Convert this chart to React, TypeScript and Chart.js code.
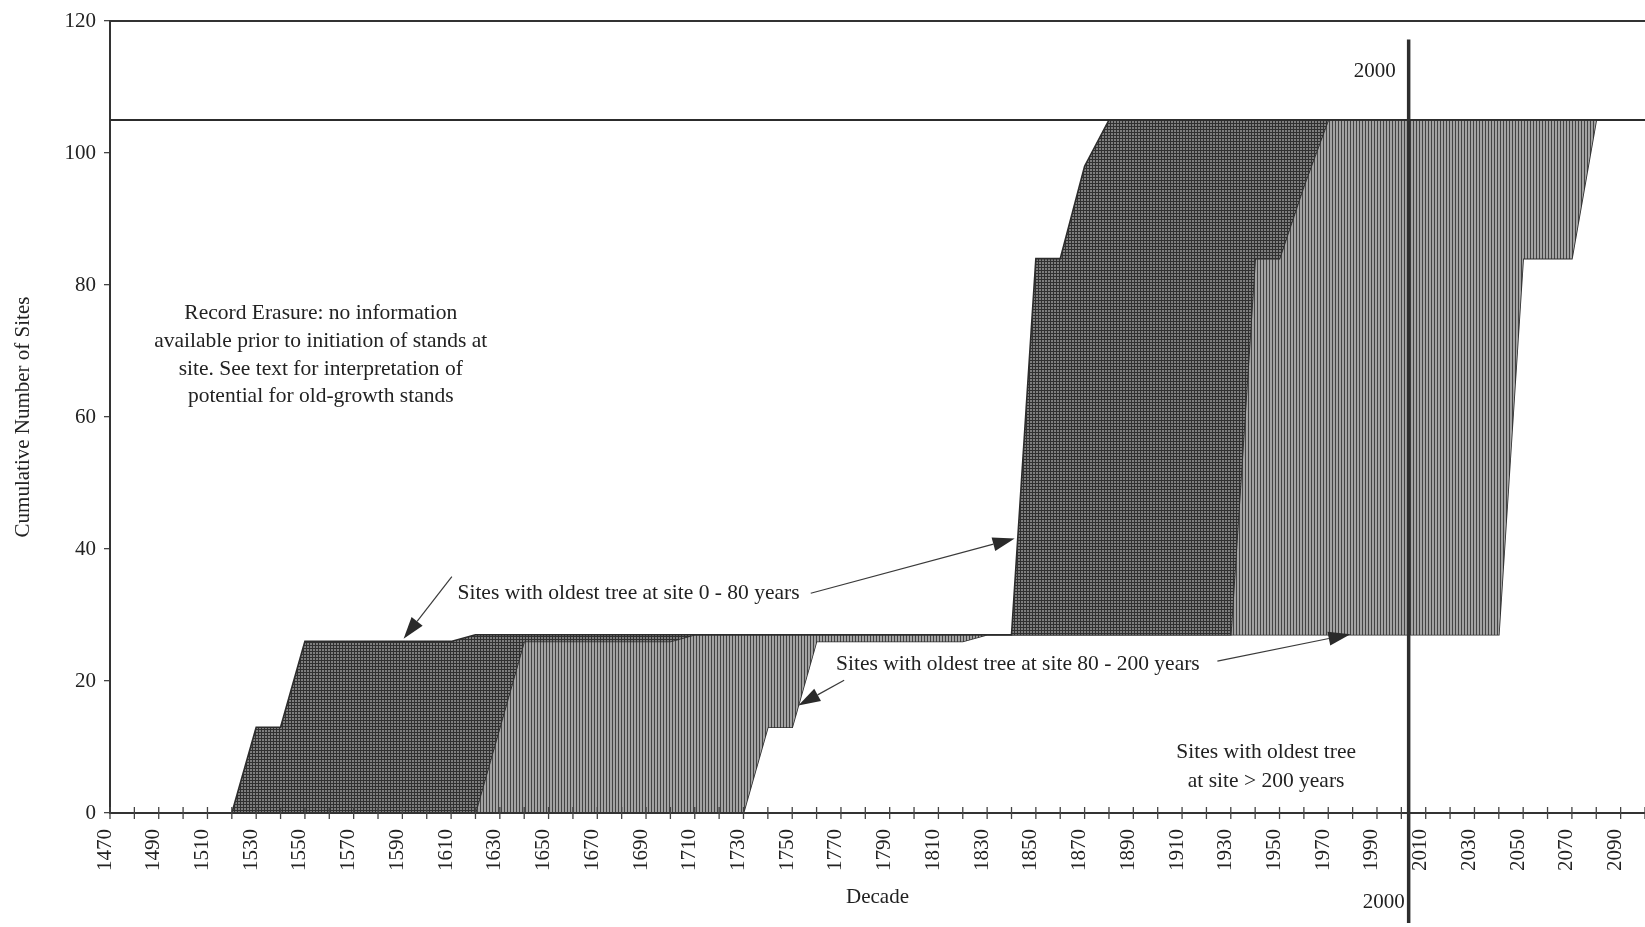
import { useEffect, useRef } from 'react';
import { Chart, registerables } from 'chart.js';

Chart.register(...registerables);

// ---- data -------------------------------------------------------------
const DECADES = [
  1470, 1480, 1490, 1500, 1510, 1520, 1530, 1540, 1550, 1560, 1570, 1580, 1590, 1600, 1610, 1620,
  1630, 1640, 1650, 1660, 1670, 1680, 1690, 1700, 1710, 1720, 1730, 1740, 1750, 1760, 1770, 1780,
  1790, 1800, 1810, 1820, 1830, 1840, 1850, 1860, 1870, 1880, 1890, 1900, 1910, 1920, 1930, 1940,
  1950, 1960, 1970, 1980, 1990, 2000, 2010, 2020, 2030, 2040, 2050, 2060, 2070, 2080, 2090, 2100,
];

// cumulative sites whose stands had been initiated (edge of record erasure)
const INITIATED = [
  0, 0, 0, 0, 0, 0, 13, 13, 26, 26, 26, 26, 26, 26, 26, 27,
  27, 27, 27, 27, 27, 27, 27, 27, 27, 27, 27, 27, 27, 27, 27, 27,
  27, 27, 27, 27, 27, 27, 84, 84, 98, 105, 105, 105, 105, 105, 105, 105,
  105, 105, 105, 105, 105, 105, 105, 105, 105, 105, 105, 105, 105, 105, 105, 105,
];

// cumulative sites whose oldest tree is older than the 0 - 80 year class
const PAST_0_80 = [
  0, 0, 0, 0, 0, 0, 0, 0, 0, 0, 0, 0, 0, 0, 0, 0,
  13, 26, 26, 26, 26, 26, 26, 26, 27, 27, 27, 27, 27, 27, 27, 27,
  27, 27, 27, 27, 27, 27, 27, 27, 27, 27, 27, 27, 27, 27, 27, 84,
  84, 95, 105, 105, 105, 105, 105, 105, 105, 105, 105, 105, 105, 105, 105, 105,
];

// cumulative sites whose oldest tree is older than 200 years
const PAST_80_200 = [
  0, 0, 0, 0, 0, 0, 0, 0, 0, 0, 0, 0, 0, 0, 0, 0,
  0, 0, 0, 0, 0, 0, 0, 0, 0, 0, 0, 13, 13, 26, 26, 26,
  26, 26, 26, 26, 27, 27, 27, 27, 27, 27, 27, 27, 27, 27, 27, 27,
  27, 27, 27, 27, 27, 27, 27, 27, 27, 27, 84, 84, 84, 105, 105, 105,
];

const TOTAL_SITES = 105;
const Y_MIN = 0;
const Y_MAX = 120;
const Y_STEP = 20;
const X_STEP = 10;
const X_LABEL_STEP = 20;

const MARKER_YEAR = 2003;
const MARKER_LABEL = '2000';
const MARKER_TOP = 117.2;

const ERASURE_TEXT = [
  'Record Erasure: no information',
  'available prior to initiation of stands at',
  'site. See text for interpretation of',
  'potential for old-growth stands',
];
const ERASURE_AT = { x: 1556.5, y: 69.4 };

const YOUNG_TEXT = 'Sites with oldest tree at site 0 - 80 years';
const YOUNG_AT = { x: 1612.6, y: 33.3 };
const YOUNG_ARROWS = [
  { from: { x: 1610.3, y: 35.8 }, to: { x: 1590.5, y: 26.4 } },
  { from: { x: 1757.6, y: 33.3 }, to: { x: 1841.3, y: 41.6 } },
];

const MID_TEXT = 'Sites with oldest tree at site 80 - 200 years';
const MID_AT = { x: 1768, y: 22.5 };
const MID_ARROWS = [
  { from: { x: 1771.3, y: 20.1 }, to: { x: 1752.5, y: 16.3 } },
  { from: { x: 1924.5, y: 23.0 }, to: { x: 1979.1, y: 27.1 } },
];

const OLD_TEXT = ['Sites with oldest tree', 'at site > 200 years'];
const OLD_AT = { x: 1944.5, y: 7.0 };

const FONT = "'Liberation Serif', 'Times New Roman', serif";
const INK = '#222222';

const pts = (vals: number[]) => DECADES.map((d, i) => ({ x: d, y: vals[i] }));

function tilePattern(ctx: CanvasRenderingContext2D, kind: 'dark' | 'mid') {
  const c = document.createElement('canvas');
  const g = c.getContext('2d')!;
  if (kind === 'dark') {
    c.width = 3;
    c.height = 3;
    g.fillStyle = '#7e7e7e';
    g.fillRect(0, 0, 3, 3);
    g.fillStyle = '#303030';
    g.fillRect(0, 0, 3, 1);
    g.fillRect(0, 0, 1, 3);
  } else {
    c.width = 3;
    c.height = 1;
    g.fillStyle = '#a3a3a3';
    g.fillRect(0, 0, 3, 1);
    g.fillStyle = '#444444';
    g.fillRect(0, 0, 1, 1);
  }
  return ctx.createPattern(c, 'repeat')!;
}

function drawArrow(ctx: CanvasRenderingContext2D, x1: number, y1: number, x2: number, y2: number) {
  const a = Math.atan2(y2 - y1, x2 - x1);
  const len = 22;
  const half = 7;
  const bx = x2 - Math.cos(a) * len;
  const by = y2 - Math.sin(a) * len;
  ctx.save();
  ctx.strokeStyle = '#3a3a3a';
  ctx.lineWidth = 1.2;
  ctx.beginPath();
  ctx.moveTo(x1, y1);
  ctx.lineTo(bx, by);
  ctx.stroke();
  ctx.fillStyle = '#2a2a2a';
  ctx.beginPath();
  ctx.moveTo(x2, y2);
  ctx.lineTo(bx + Math.sin(a) * half, by - Math.cos(a) * half);
  ctx.lineTo(bx - Math.sin(a) * half, by + Math.cos(a) * half);
  ctx.closePath();
  ctx.fill();
  ctx.restore();
}

export default function App() {
  const ref = useRef<HTMLCanvasElement>(null);

  useEffect(() => {
    const canvas = ref.current!;
    const ctx0 = canvas.getContext('2d')!;
    const darkPat = tilePattern(ctx0, 'dark');
    const midPat = tilePattern(ctx0, 'mid');

    const overlay = {
      id: 'overlay',
      afterDraw(chart: any) {
        const { ctx, chartArea } = chart;
        const xs = chart.scales.x;
        const ys = chart.scales.y;
        const X = (v: number) => xs.getPixelForValue(v);
        const Y = (v: number) => ys.getPixelForValue(v);
        ctx.save();

        // top frame line
        ctx.strokeStyle = '#333';
        ctx.lineWidth = 2;
        ctx.beginPath();
        ctx.moveTo(chartArea.left, chartArea.top);
        ctx.lineTo(chartArea.right, chartArea.top);
        ctx.stroke();

        // x axis line and crossing tick marks
        ctx.beginPath();
        ctx.moveTo(chartArea.left, chartArea.bottom);
        ctx.lineTo(chartArea.right, chartArea.bottom);
        ctx.stroke();
        ctx.lineWidth = 1.3;
        ctx.strokeStyle = '#444';
        for (const t of xs.ticks) {
          const px = X(t.value);
          ctx.beginPath();
          ctx.moveTo(px, chartArea.bottom - 6);
          ctx.lineTo(px, chartArea.bottom + 6);
          ctx.stroke();
        }

        // marker line
        const mx = X(MARKER_YEAR);
        ctx.strokeStyle = '#2e2e2e';
        ctx.lineWidth = 3.5;
        ctx.beginPath();
        ctx.moveTo(mx, Y(MARKER_TOP));
        ctx.lineTo(mx, chart.height - 4);
        ctx.stroke();

        ctx.fillStyle = INK;
        ctx.font = `21px ${FONT}`;
        ctx.textBaseline = 'middle';
        ctx.textAlign = 'right';
        ctx.fillText(MARKER_LABEL, mx - 13, Y(112.4));
        ctx.fillText(MARKER_LABEL, mx - 4, chartArea.bottom + 89);

        // annotations
        ctx.font = `21.5px ${FONT}`;
        ctx.textAlign = 'center';
        const lh = 27.8;
        ERASURE_TEXT.forEach((s, i) => {
          ctx.fillText(s, X(ERASURE_AT.x), Y(ERASURE_AT.y) + (i - (ERASURE_TEXT.length - 1) / 2) * lh);
        });
        OLD_TEXT.forEach((s, i) => {
          ctx.fillText(s, X(OLD_AT.x), Y(OLD_AT.y) + (i - (OLD_TEXT.length - 1) / 2) * 29);
        });
        ctx.textAlign = 'left';
        ctx.fillText(YOUNG_TEXT, X(YOUNG_AT.x), Y(YOUNG_AT.y));
        ctx.fillText(MID_TEXT, X(MID_AT.x), Y(MID_AT.y));

        for (const a of [...YOUNG_ARROWS, ...MID_ARROWS]) {
          drawArrow(ctx, X(a.from.x), Y(a.from.y), X(a.to.x), Y(a.to.y));
        }
        ctx.restore();
      },
    };

    const lineBase = {
      borderColor: '#2c2c2c',
      borderWidth: 1.6,
      pointRadius: 0,
      tension: 0,
    };

    const chart = new Chart(canvas, {
      type: 'line',
      data: {
        datasets: [
          { ...lineBase, label: 'initiated', data: pts(INITIATED), fill: '+1', backgroundColor: darkPat },
          { ...lineBase, label: 'past 0-80', data: pts(PAST_0_80), fill: '+1', backgroundColor: midPat },
          { ...lineBase, label: 'past 80-200', data: pts(PAST_80_200), fill: false },
          {
            ...lineBase,
            label: 'total',
            borderWidth: 2,
            data: [
              { x: DECADES[0], y: TOTAL_SITES },
              { x: DECADES[DECADES.length - 1], y: TOTAL_SITES },
            ],
            fill: false,
          },
        ],
      },
      options: {
        animation: false,
        responsive: false,
        devicePixelRatio: 1,
        layout: { padding: { top: 21, left: 0, right: 0, bottom: 0 } },
        plugins: { legend: { display: false }, tooltip: { enabled: false } },
        scales: {
          x: {
            type: 'linear',
            min: DECADES[0],
            max: DECADES[DECADES.length - 1],
            afterFit: (s: any) => {
              s.height = 114;
              s.paddingLeft = 0;
              s.paddingRight = 0;
            },
            ticks: {
              stepSize: X_STEP,
              autoSkip: false,
              minRotation: 90,
              maxRotation: 90,
              padding: 16,
              labelOffset: -5,
              color: INK,
              font: { family: FONT, size: 21 },
              callback: (v: any) =>
                (v - DECADES[0]) % X_LABEL_STEP === 0 && v < DECADES[DECADES.length - 1] ? String(v) : '',
            },
            grid: { display: false, drawTicks: false },
            border: { display: true, color: '#333', width: 2 },
            title: {
              display: true,
              text: 'Decade',
              color: INK,
              font: { family: FONT, size: 21 },
              padding: { top: 0, bottom: 17 },
            },
          },
          y: {
            min: Y_MIN,
            max: Y_MAX,
            afterFit: (s: any) => {
              s.width = 110;
              s.paddingTop = 0;
              s.paddingBottom = 0;
            },
            ticks: {
              stepSize: Y_STEP,
              padding: 8,
              color: INK,
              font: { family: FONT, size: 21 },
            },
            grid: { drawOnChartArea: false, drawTicks: true, tickLength: 6, color: '#444', lineWidth: 1.3 },
            border: { display: true, color: '#333', width: 2 },
            title: {
              display: true,
              text: 'Cumulative Number of Sites',
              color: INK,
              font: { family: FONT, size: 21 },
              padding: { top: 11, bottom: 0 },
            },
          },
        },
      },
      plugins: [overlay],
    } as any);

    return () => chart.destroy();
  }, []);

  return (
    <div style={{ position: 'fixed', left: 0, top: 0, width: 1645, height: 927, background: '#fff' }}>
      <canvas ref={ref} width={1645} height={927} style={{ display: 'block', width: 1645, height: 927 }} />
    </div>
  );
}
